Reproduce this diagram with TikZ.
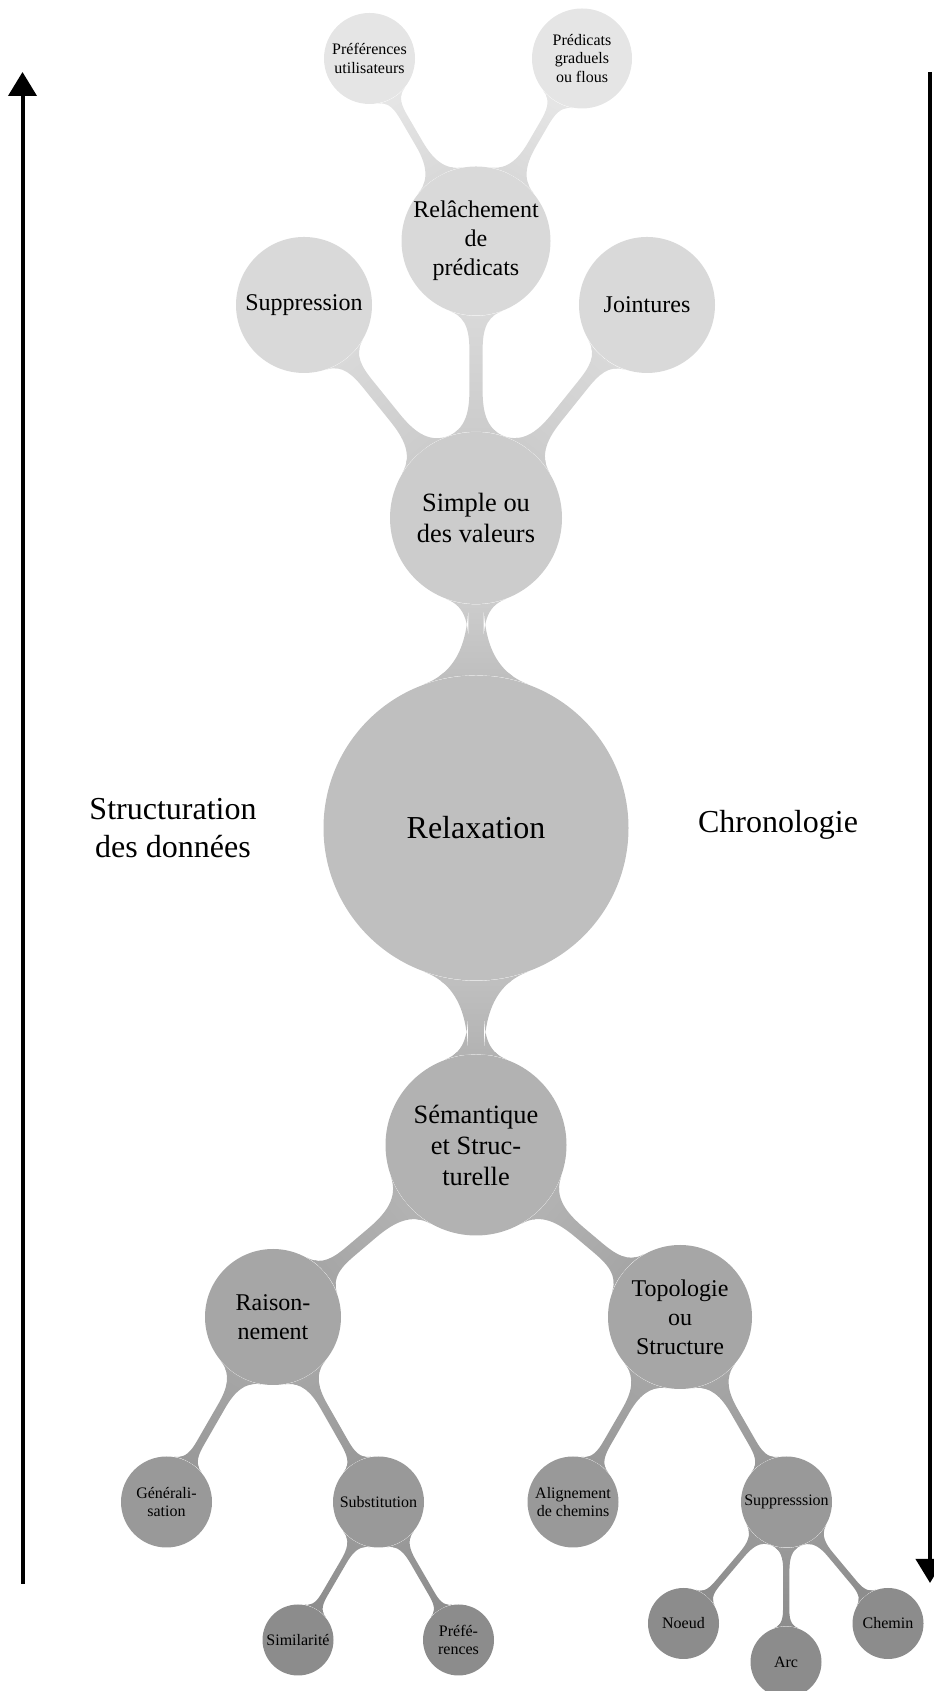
\documentclass[tikz,border=0pt]{standalone}
\usepackage{fontspec}
\setmainfont{Liberation Serif}
\usetikzlibrary{mindmap,arrows.meta,backgrounds}
\begin{document}
\begin{tikzpicture}[x=0.5pt,y=0.5pt,
  cpt/.style={circle,inner sep=0pt,align=center,text=black},
  lv0/.style={cpt,fill=black!25,minimum size=152.5pt,font=\fontsize{16}{19}\selectfont},
  lv1/.style={cpt,minimum size=86pt,font=\fontsize{13.2}{15.5}\selectfont},
  lv2/.style={cpt,minimum size=68pt,font=\fontsize{12}{14.5}\selectfont},
  lv3/.style={cpt,minimum size=45.5pt,font=\fontsize{8}{9.2}\selectfont},
  lv4/.style={cpt,minimum size=35.5pt,font=\fontsize{8}{9.2}\selectfont},
  side/.style={align=center,font=\fontsize{16}{19}\selectfont},
  axis/.style={line width=2pt,-{Triangle[length=12pt,width=14pt]}}
]
\useasboundingbox (0,0) rectangle (933,1691);
% concepts
\node[lv0] (root) at (476,863) {Relaxation};
\node[lv1,fill=black!20] (simple) at (476,1173) {Simple ou\\des valeurs};
\node[lv1,fill=black!30,minimum size=90.5pt] (sem) at (476,546) {Sémantique\\et Struc-\\turelle};
\node[lv2,fill=black!15,minimum size=74.5pt] (rel) at (476,1450) {Relâchement\\de\\prédicats};
\node[lv2,fill=black!15] (supT) at (304,1386) {Suppression};
\node[lv2,fill=black!15] (join) at (647,1386) {Jointures};
\node[lv3,fill=black!10] (prefU) at (369.5,1632.5) {Préférences\\utilisateurs};
\node[lv3,fill=black!10,minimum size=50pt] (pred) at (582,1632.5) {Prédicats\\graduels\\ou flous};
\node[lv2,fill=black!35] (raison) at (273,374) {Raison-\\nement};
\node[lv2,fill=black!35,minimum size=72pt] (topo) at (680,374) {Topologie\\ou\\Structure};
\node[lv3,fill=black!40] (gen) at (166.5,189) {Générali-\\sation};
\node[lv3,fill=black!40] (subst) at (378.5,189) {Substitution};
\node[lv3,fill=black!40] (align) at (573,189) {Alignement\\de chemins};
\node[lv3,fill=black!40] (supB) at (786.5,189) {Suppresssion};
\node[lv4,fill=black!45] (simil) at (298,51) {Similarité};
\node[lv4,fill=black!45] (prefB) at (458.5,51) {Préfé-\\rences};
\node[lv4,fill=black!45] (noeud) at (683.5,67.5) {Noeud};
\node[lv4,fill=black!45] (arc) at (786,29) {Arc};
\node[lv4,fill=black!45] (chemin) at (888,67.5) {Chemin};
% connections
\begin{pgfonlayer}{background}
\path (root) to[circle connection bar switch color=from (black!25) to (black!20)] (simple);
\path (simple) to[circle connection bar switch color=from (black!20) to (black!15)] (rel);
\path (simple) to[circle connection bar switch color=from (black!20) to (black!15)] (supT);
\path (simple) to[circle connection bar switch color=from (black!20) to (black!15)] (join);
\path (rel) to[circle connection bar switch color=from (black!15) to (black!10)] (prefU);
\path (rel) to[circle connection bar switch color=from (black!15) to (black!10)] (pred);
\path (root) to[circle connection bar switch color=from (black!25) to (black!30)] (sem);
\path (sem) to[circle connection bar switch color=from (black!30) to (black!35)] (raison);
\path (sem) to[circle connection bar switch color=from (black!30) to (black!35)] (topo);
\path (raison) to[circle connection bar switch color=from (black!35) to (black!40)] (gen);
\path (raison) to[circle connection bar switch color=from (black!35) to (black!40)] (subst);
\path (topo) to[circle connection bar switch color=from (black!35) to (black!40)] (align);
\path (topo) to[circle connection bar switch color=from (black!35) to (black!40)] (supB);
\path (subst) to[circle connection bar switch color=from (black!40) to (black!45)] (simil);
\path (subst) to[circle connection bar switch color=from (black!40) to (black!45)] (prefB);
\path (supB) to[circle connection bar switch color=from (black!40) to (black!45)] (noeud);
\path (supB) to[circle connection bar switch color=from (black!40) to (black!45)] (arc);
\path (supB) to[circle connection bar switch color=from (black!40) to (black!45)] (chemin);
\end{pgfonlayer}
% side labels
\node[side] (struct) at (173,863) {Structuration\\des données};
\node[side] (chrono) at (778,866) {Chronologie};
% axes
\coordinate (lb) at (22.5,107);
\coordinate (lt) at (22.5,1619);
\coordinate (rt) at (930,1619);
\coordinate (rb) at (930,108);
\draw[axis] (lb) -- (lt);
\draw[axis] (rt) -- (rb);
\end{tikzpicture}
\end{document}
